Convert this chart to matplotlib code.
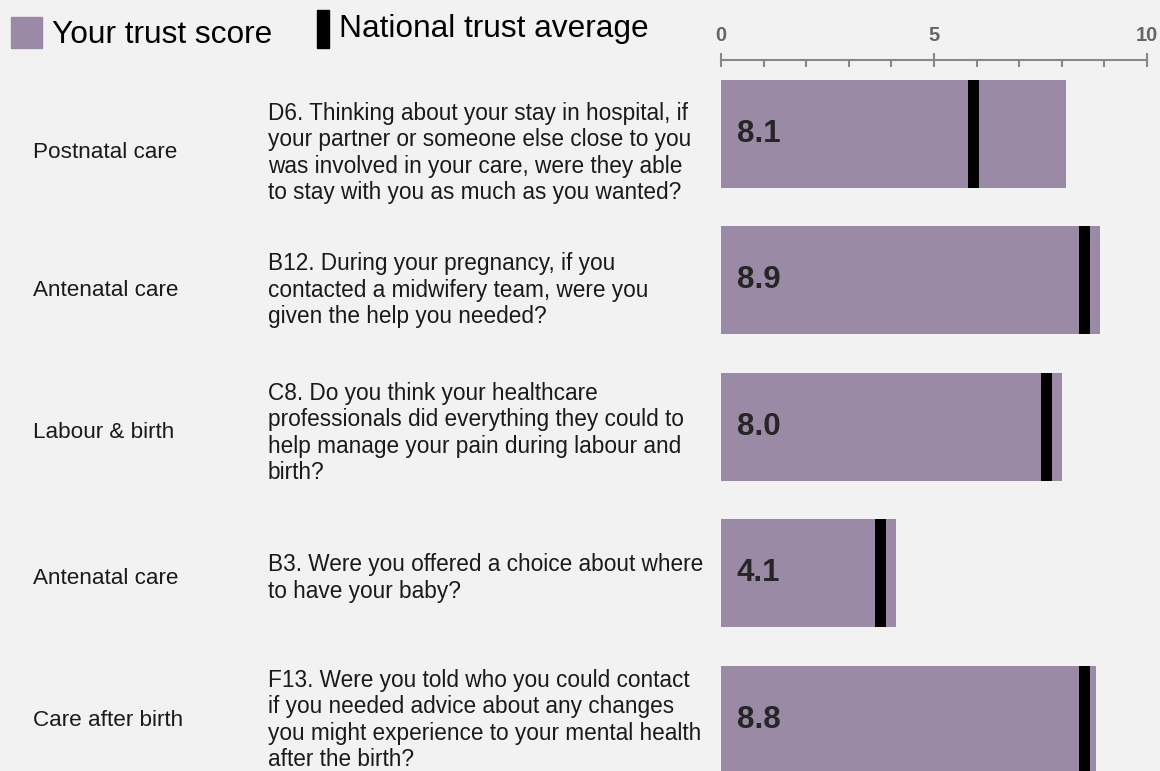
import numpy as np
import matplotlib.pyplot as plt
from matplotlib.patches import Rectangle
from matplotlib.ticker import MultipleLocator

plt.rcParams['font.family'] = ['Liberation Sans', 'DejaVu Sans']

# ---------------- data
sections = ['Postnatal care', 'Antenatal care', 'Labour & birth',
            'Antenatal care', 'Care after birth']
questions = [
    'D6. Thinking about your stay in hospital, if\n'
    'your partner or someone else close to you\n'
    'was involved in your care, were they able\n'
    'to stay with you as much as you wanted?',
    'B12. During your pregnancy, if you\n'
    'contacted a midwifery team, were you\n'
    'given the help you needed?',
    'C8. Do you think your healthcare\n'
    'professionals did everything they could to\n'
    'help manage your pain during labour and\n'
    'birth?',
    'B3. Were you offered a choice about where\n'
    'to have your baby?',
    'F13. Were you told who you could contact\n'
    'if you needed advice about any changes\n'
    'you might experience to your mental health\n'
    'after the birth?',
]
trust_score = [8.1, 8.9, 8.0, 4.1, 8.8]
national_avg = [5.93, 8.53, 7.64, 3.74, 8.53]

bar_col = '#9b8aa6'
bg = '#f2f2f2'
txt_col = '#1a1a1a'
W, H = 1160, 771

fig = plt.figure(figsize=(W/100, H/100), dpi=100, facecolor=bg)

# axes: x 0..10 spans px 721..1147, top spine at px 60
ax = fig.add_axes([721/W, 0, 426/W, (H-60)/H])
ax.set_facecolor(bg)

y = np.arange(len(trust_score))
ax.barh(y, trust_score, height=0.737, color=bar_col, zorder=2)
ax.barh(y, 0.26, left=np.array(national_avg)-0.13, height=0.737,
        color='black', zorder=3)

for yi, v in zip(y, trust_score):
    ax.annotate(f'{v:.1f}', xy=(0, yi), xytext=(11.5, 0),
                textcoords='offset points', ha='left', va='center',
                fontsize=22.5, fontweight='bold', color='#262626', zorder=4)

ax.set_xlim(0, 10)
ax.set_ylim(4.351, -0.505)

for s in ['left', 'right', 'bottom']:
    ax.spines[s].set_visible(False)
ax.spines['top'].set_color('#888888')
ax.spines['top'].set_linewidth(1.5)
ax.set_yticks([])
ax.xaxis.set_ticks_position('top')
ax.xaxis.set_major_locator(MultipleLocator(5))
ax.xaxis.set_minor_locator(MultipleLocator(1))
ax.tick_params(axis='x', which='major', direction='inout', length=10,
               width=1.5, color='#888888', pad=6, labelsize=14.5,
               labelcolor='#666666')
ax.tick_params(axis='x', which='minor', direction='in', length=5,
               width=1.5, color='#888888')
for lab in ax.get_xticklabels():
    lab.set_fontweight('bold')

# text rows (pixel centres)
row_px = [153, 290, 433, 578, 720]
for sec, q, py in zip(sections, questions, row_px):
    fy = 1 - py/H
    fig.text(33/W, fy, sec, ha='left', va='center', fontsize=16.2,
             color=txt_col)
    fig.text(268/W, fy, q, ha='left', va='center', fontsize=16.3,
             color=txt_col, linespacing=1.17)

# legend
fig.add_artist(Rectangle((11/W, 1-48/H), 31/W, 31/H, color=bar_col,
                         transform=fig.transFigure))
fig.add_artist(Rectangle((317/W, 1-48/H), 12/W, 38/H, color='black',
                         transform=fig.transFigure))
fig.text(52/W, 1-43/H, 'Your trust score', ha='left', va='baseline',
         fontsize=22.8, color='black')
fig.text(339/W, 1-37/H, 'National trust average', ha='left', va='baseline',
         fontsize=22.8, color='black')

fig.savefig('out.png', dpi=100, facecolor=bg)
